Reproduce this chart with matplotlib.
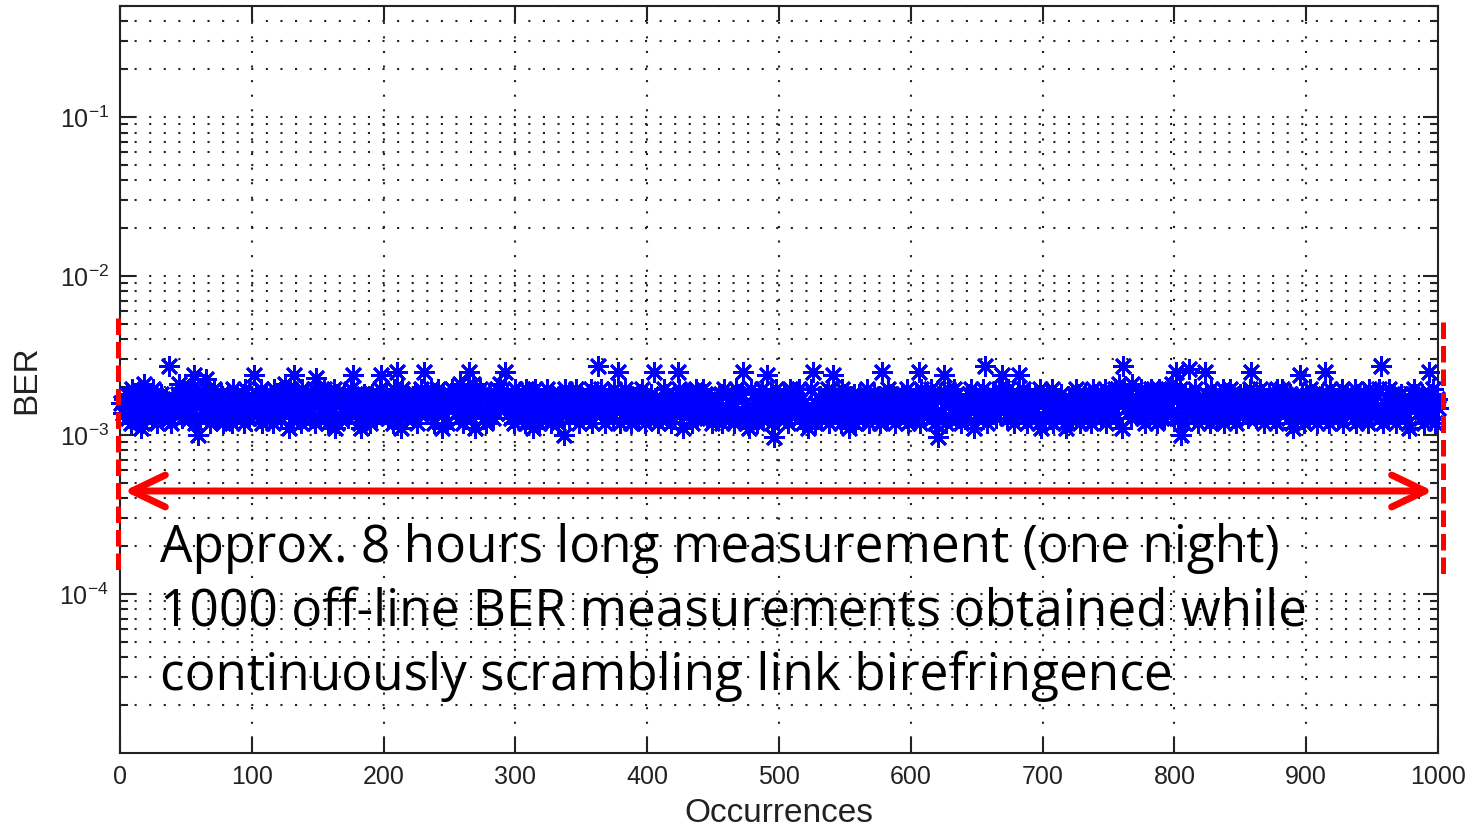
import matplotlib
matplotlib.use("Agg")
import matplotlib.pyplot as plt
from matplotlib.lines import Line2D
from matplotlib.ticker import MultipleLocator, NullFormatter
import numpy as np

# BER readings, one level character per occurrence (see decode below)
ber_rows = [
    "6475836295 7548362a47 5683947265 8364759326 4758a63947",
    "5739462857 3648b57264 9536748253 6847295364 7582946357",
    "4685739264 8573629485 6374a85296 3758462937 5864739258",
    "7364958273 5948273658 4736952847 6295847362 8473659247",
    "5837462958 4629573846 7358264957 3846597264 9573846258",
    "6958473a62 7849563a78 5694837258 8736495a67 7958463729",
    "5847362958 6374958264 4739562847 6258473956 3847596274",
    "7465839274 5836947265 8473956a28 6594738265 4738596247",
    "6385947263 7495836274 5639472858 8472659364 6958374725",
    "4637582935 5374629483 3846257394 4725839364 3658274936",
    "5748362957 6485937264 4739582647 7365849275 5847362958",
    "6394758264 8573649275 5846372958 7394856274 6485739265",
    "5738462957 7465938274 3847562938 6594837264 4738596273",
    "7485936274 5847369528 6739485264 8465937258 5748362947",
    "6385749263 4758362947 7364958273 5847362958 6473859264",
    "8574936a72 6958473a64 7485936278 5948372968 7364958a73",
    "5739462857 6847395264 4758362938 7364859274 5948372658",
    "6485739265 7364958274 5847362947 6958473825 4736958264",
    "7394856274 5847362958 6473859264 8564739285 5738462947",
    "6485937264 7395846275 5847362958 6958473826 4758396275",
]

# single stars that stand clear of the band
outlier_idx = [36, 55, 101, 131, 148, 176, 197, 209, 230, 264, 291, 362, 377,
               404, 422, 472, 490, 525, 540, 577, 605, 624, 655, 668, 681, 760,
               800, 810, 822, 857, 894, 913, 956, 992,
               15, 58, 127, 162, 182, 212, 243, 268, 312, 336, 426, 476, 495,
               521, 552, 620, 647, 698, 717, 759, 804, 889, 977]
outlier_ber = [2.7e-3, 2.4e-3, 2.4e-3, 2.4e-3, 2.3e-3, 2.4e-3, 2.4e-3, 2.5e-3,
               2.5e-3, 2.5e-3, 2.5e-3, 2.7e-3, 2.5e-3, 2.5e-3, 2.5e-3, 2.5e-3,
               2.4e-3, 2.5e-3, 2.4e-3, 2.5e-3, 2.5e-3, 2.4e-3, 2.7e-3, 2.4e-3,
               2.4e-3, 2.7e-3, 2.5e-3, 2.6e-3, 2.5e-3, 2.5e-3, 2.4e-3, 2.5e-3,
               2.7e-3, 2.5e-3,
               1.1e-3, 1.0e-3, 1.1e-3, 1.1e-3, 1.1e-3, 1.1e-3, 1.1e-3, 1.1e-3,
               1.1e-3, 1.0e-3, 1.1e-3, 1.1e-3, 0.97e-3, 1.1e-3, 1.1e-3, 0.97e-3,
               1.1e-3, 1.1e-3, 1.1e-3, 1.1e-3, 1.0e-3, 1.1e-3, 1.1e-3]

x_ticks = [0, 100, 200, 300, 400, 500, 600, 700, 800, 900, 1000]
y_ticks = [1e-4, 1e-3, 1e-2, 1e-1]

text_lines = [
    "Approx. 8 hours long measurement (one night)",
    "1000 off-line BER measurements obtained while",
    "continuously scrambling link birefringence",
]

# level k -> BER, levels evenly spaced on the log axis (k=2 ~1.19e-3, k=11 ~2.29e-3)
levels = "0123456789abcdefgh"
codes = "".join(ber_rows).replace(" ", "")
ber = np.array([1e-3 * 10 ** (0.016 + 0.0305 * levels.index(c)) for c in codes])
ber[outlier_idx] = outlier_ber
occ = np.arange(1, len(ber) + 1)

plt.rcParams['font.family'] = ['Liberation Sans', 'DejaVu Sans']

W, H = 1468, 833
fig = plt.figure(figsize=(W / 100, H / 100), dpi=100)
ax = fig.add_axes([120 / W, 80 / H, 1318 / W, 747 / H])

ax.plot(occ, ber, linestyle='none', marker=(8, 2, 0), markersize=15,
        markeredgewidth=2.0, color='#0000ff', clip_on=False, zorder=3)

ax.set_yscale('log')
ax.set_xlim(0, 1000)
ax.set_ylim(1e-5, 0.5)
ax.set_xticks(x_ticks)
ax.set_yticks(y_ticks)
ax.yaxis.set_minor_formatter(NullFormatter())
ax.xaxis.set_minor_locator(MultipleLocator(1000))

grid_kw = dict(color='#222222', linestyle=(0, (1, 6)), linewidth=1.5)
ax.grid(True, which='major', axis='x', **grid_kw)
ax.grid(True, which='both', axis='y', **grid_kw)
ax.set_axisbelow(True)

ax.tick_params(which='both', direction='in', top=True, right=True, width=1.5,
               color='#222222', labelsize=18, labelcolor='#222222')
ax.tick_params(which='major', length=11)
ax.tick_params(which='minor', length=6)
ax.tick_params(axis='x', which='minor', length=0)
ax.tick_params(axis='x', pad=9)
ax.tick_params(axis='y', pad=8)
for s in ax.spines.values():
    s.set_linewidth(1.5)
    s.set_color('#222222')

ax.set_xlabel('Occurrences', fontsize=24, color='#222222', labelpad=6)
ax.set_ylabel('BER', fontsize=24, color='#222222', labelpad=12)

# red overlay: span arrow and dashed end markers (figure pixels)
ax.annotate('', xy=(124, H - 491), xytext=(1433, H - 491),
            xycoords='figure pixels', textcoords='figure pixels',
            arrowprops=dict(arrowstyle='<->, head_length=2.4, head_width=1.15',
                            color='#ff0000', lw=5, shrinkA=0, shrinkB=0,
                            capstyle='round', joinstyle='round'))
for xd, y0, y1 in [(118, 318, 572), (1443, 322, 575)]:
    fig.add_artist(Line2D([xd / W, xd / W], [1 - y0 / H, 1 - y1 / H],
                          transform=fig.transFigure, color='#ff0000', lw=3.6,
                          linestyle=(0, (3.3, 1.4))))

for line, base in zip(text_lines, [562, 626, 690]):
    fig.text(160 / W, 1 - base / H, line, fontsize=37, family=['Open Sans', 'DejaVu Sans'],
             color='black', ha='left', va='baseline')

fig.savefig('out.png', dpi=100)
